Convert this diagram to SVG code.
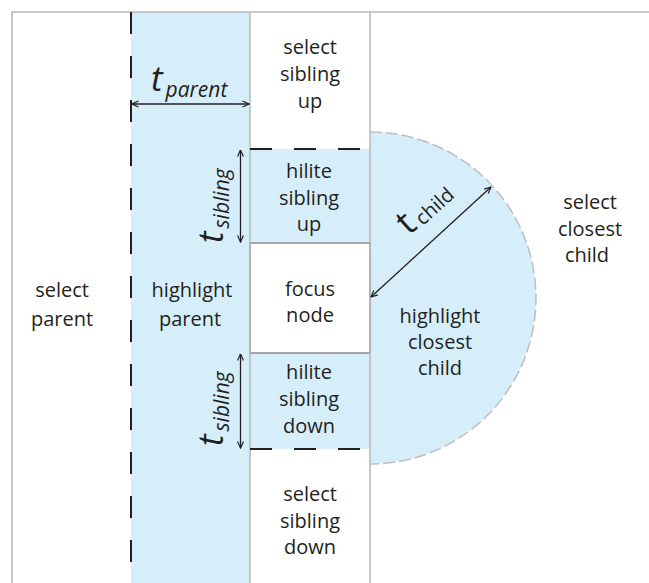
<svg xmlns="http://www.w3.org/2000/svg" width="649" height="583" viewBox="0 0 649 583">
<style>
.lbl{font-family:"Open Sans","Noto Sans","Liberation Sans",sans-serif;font-size:20px;fill:#231f20;text-anchor:middle}
.it{font-family:"Open Sans","Noto Sans","Liberation Sans",sans-serif;fill:#231f20;font-style:italic}
.blue{fill:#d6eefa}
.gray{stroke:#b8b8b8;stroke-width:1.5;fill:none}
.dash{stroke:#231f20;stroke-width:2;stroke-dasharray:22 22;fill:none}
.dim{stroke:#231f20;stroke-width:1.3;fill:none;marker-start:url(#ah);marker-end:url(#ah)}
</style>
<defs>
<marker id="ah" viewBox="0 0 8 8" refX="7.5" refY="4" markerWidth="8" markerHeight="8" markerUnits="userSpaceOnUse" orient="auto-start-reverse">
<path d="M1,1 L7.5,4 L1,7" fill="none" stroke="#231f20" stroke-width="1.2"/>
</marker>
</defs>
<rect width="649" height="583" fill="#fff"/>
<g id="region-parent">
<rect class="blue" x="131" y="12" width="119" height="571"/>
<text class="lbl" x="62" y="297">select</text>
<text class="lbl" x="62" y="326">parent</text>
<text class="lbl" x="192" y="297">highlight</text>
<text class="lbl" x="190" y="326">parent</text>
</g>
<g id="region-child">
<path class="blue" d="M370,132 A166,166 0 0 1 370,464 Z"/>
<path d="M370,132 A166,166 0 0 1 370,464" fill="none" stroke="#bdbdbd" stroke-width="1.5" stroke-dasharray="12 4"/>
<text class="lbl" x="440" y="323">highlight</text>
<text class="lbl" x="440" y="349">closest</text>
<text class="lbl" x="440" y="375">child</text>
<text class="lbl" x="590" y="209">select</text>
<text class="lbl" x="590" y="236">closest</text>
<text class="lbl" x="587" y="262">child</text>
</g>
<g id="node-hilite-up">
<rect class="blue" x="250" y="149" width="120" height="94"/>
<text class="lbl" x="309" y="178">hilite</text>
<text class="lbl" x="309" y="205">sibling</text>
<text class="lbl" x="309" y="231">up</text>
</g>
<g id="node-hilite-down">
<rect class="blue" x="250" y="353" width="120" height="96"/>
<text class="lbl" x="309" y="379">hilite</text>
<text class="lbl" x="309" y="406">sibling</text>
<text class="lbl" x="309" y="433">down</text>
</g>
<g id="node-select-up">
<text class="lbl" x="310" y="54">select</text>
<text class="lbl" x="310" y="81">sibling</text>
<text class="lbl" x="310" y="108">up</text>
</g>
<g id="node-focus">
<rect x="250" y="243" width="120" height="110" fill="#fff" stroke="#8a8a8a" stroke-width="1.5"/>
<text class="lbl" x="310" y="296">focus</text>
<text class="lbl" x="310" y="322">node</text>
</g>
<g id="node-select-down">
<text class="lbl" x="310" y="501">select</text>
<text class="lbl" x="310" y="528">sibling</text>
<text class="lbl" x="310" y="554">down</text>
</g>
<g id="frame">
<path class="gray" d="M649,12 H12 V583"/>
<path class="gray" d="M250,12 V583 M370,12 V583"/>
</g>
<g id="connectors">
<path class="dash" d="M131,12 V583"/>
<path class="dash" d="M250,149 H370 M250,449 H370" stroke-dasharray="21 22"/>
<path class="dim" d="M132,104 H249"/>
<path class="dim" d="M240.5,150 V242"/>
<path class="dim" d="M240.5,354 V448"/>
<path class="dim" d="M371,297 L491,187"/>
</g>
<g id="labels">
<text class="it" x="151" y="91"><tspan font-size="35">t</tspan><tspan font-size="21" dx="3" dy="6">parent</tspan></text>
<text class="it" transform="translate(223,243) rotate(-90)"><tspan font-size="35">t</tspan><tspan font-size="21" dx="3" dy="6">sibling</tspan></text>
<text class="it" transform="translate(223,446) rotate(-90)"><tspan font-size="35">t</tspan><tspan font-size="21" dx="3" dy="6">sibling</tspan></text>
<text font-family="Open Sans,Noto Sans,sans-serif" fill="#231f20" transform="translate(409,236) rotate(-42)"><tspan font-size="36">t</tspan><tspan font-size="20" dx="4" dy="2">child</tspan></text>
</g>
</svg>
